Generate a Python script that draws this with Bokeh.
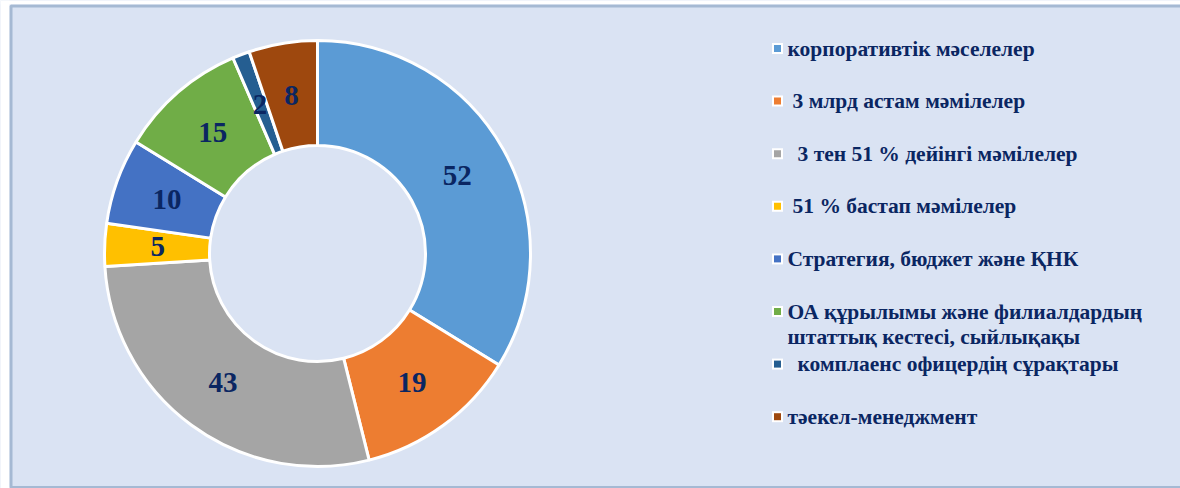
import math
from bokeh.plotting import figure
from bokeh.models import Range1d, ColumnDataSource, BoxAnnotation
from bokeh.core.properties import value
from bokeh.embed import file_html
from bokeh.resources import INLINE

categories = [
    "корпоративтік мәселелер",
    " 3 млрд астам мәмілелер",
    "  3 тен 51 % дейінгі мәмілелер",
    " 51 % бастап мәмілелер",
    "Стратегия, бюджет және ҚНК",
    "ОА құрылымы және филиалдардың\nштаттық кестесі, сыйлықақы",
    "  комплаенс офицердің сұрақтары",
    "тәекел-менеджмент",
]
values = [52, 19, 43, 5, 10, 15, 2, 8]
colors = ["#5b9bd5", "#ed7d31", "#a5a5a5", "#ffc000", "#4472c4", "#70ad47", "#255e91", "#9e480e"]

W, H = 1180, 488
BG = "#dae3f3"
NAVY = "#0a2662"
EDGE = "#2b5a8c"

p = figure(width=W, height=H, output_backend="svg", toolbar_location=None,
           x_range=Range1d(0, W), y_range=Range1d(0, H), min_border=0)
p.axis.visible = False
p.grid.visible = False
p.background_fill_color = BG
p.border_fill_color = BG
p.outline_line_color = None

def py(page_y):
    return H - page_y

# white page margin outside the chart frame, and the frame border
p.add_layout(BoxAnnotation(left=0, right=9, bottom=0, top=H, fill_color="white",
                           fill_alpha=1, line_color=None))
p.add_layout(BoxAnnotation(left=0, right=W, bottom=py(4), top=H, fill_color="white",
                           fill_alpha=1, line_color=None))
p.add_layout(BoxAnnotation(left=10.5, right=W + 20, bottom=py(487), top=py(5.5),
                           fill_color=None, fill_alpha=0, line_color=EDGE, line_width=3))

# donut geometry (page px)
cx, cy = 317, py(253)
r_out, r_in, r_lab = 213, 108, 160

total = float(sum(values))
starts, ends, lx, ly = [], [], [], []
cum = 0.0
for v in values:
    a0 = math.pi / 2 - 2 * math.pi * cum / total
    a1 = math.pi / 2 - 2 * math.pi * (cum + v) / total
    starts.append(a1)
    ends.append(a0)
    mid = (a0 + a1) / 2
    lx.append(cx + r_lab * math.cos(mid))
    ly.append(cy + r_lab * math.sin(mid))
    cum += v

src = ColumnDataSource(dict(start=starts, end=ends, color=colors,
                            lx=lx, ly=ly, txt=[str(v) for v in values]))
p.annular_wedge(x=cx, y=cy, inner_radius=r_in, outer_radius=r_out,
                start_angle="start", end_angle="end", direction="anticlock",
                fill_color="color", line_color="white", line_width=3, source=src)
p.text(x="lx", y="ly", text="txt", source=src, text_align="center",
       text_baseline="middle", text_font=value("Liberation Serif"),
       text_font_style="bold", text_font_size="29px", text_color=NAVY)

# legend
row0, step = 48, 52.6
line_h = 25
mx, tx = 777, 787
m_x, m_y, t_x, t_y, t_txt = [], [], [], [], []
for i, lab in enumerate(categories):
    yd = py(row0 + step * i)
    m_x.append(mx)
    m_y.append(yd)
    indent = (len(lab) - len(lab.lstrip(" "))) * 5
    for k, line in enumerate(lab.strip(" ").split("\n")):
        t_x.append(tx + indent)
        t_y.append(yd - k * line_h)
        t_txt.append(line)

p.scatter(x=m_x, y=m_y, marker="square", size=11, fill_color="white", line_color=None)
p.scatter(x=m_x, y=m_y, marker="square", size=7, fill_color=colors, line_color=None)
p.text(x=t_x, y=t_y, text=t_txt, text_align="left", text_baseline="middle",
       text_font=value("Liberation Serif"), text_font_style="bold",
       text_font_size="21.5px", text_color=NAVY)

open("out.html", "w").write(file_html(p, INLINE))
